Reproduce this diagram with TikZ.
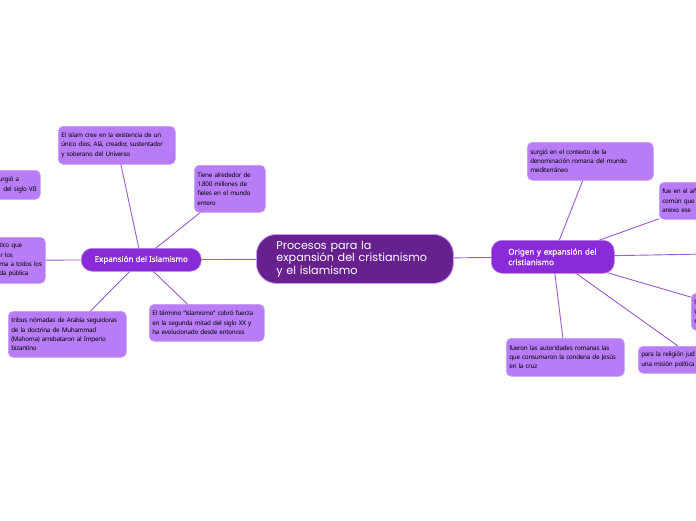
\documentclass[tikz,border=0pt]{standalone}
\usepackage{fontspec}
\setmainfont{Noto Sans}
\newfontfamily\leaffont[LetterSpace=-4]{Noto Sans}
\newfontfamily\mfont[FakeBold=0.6]{Noto Sans}
\newfontfamily\centfont{Poppins}
\usetikzlibrary{backgrounds}
\definecolor{cent}{HTML}{67218F}
\definecolor{mainc}{HTML}{8A2BD9}
\definecolor{leafc}{HTML}{B77CF6}
\definecolor{leafb}{HTML}{C79CF8}
\definecolor{linec}{HTML}{9A5AD2}
\tikzset{
  leaf/.style={draw=leafb, line width=0.6pt, fill=leafc, rounded corners=5pt, anchor=north west,
    align=left, inner sep=3pt, font=\leaffont\fontsize{6.3}{9.3}\selectfont, text=black},
  mainnode/.style={draw=mainc!60, line width=0.6pt, fill=mainc, rounded corners=11pt, anchor=north west,
    text=white, font=\mfont\fontsize{8}{10.5}\selectfont},
  centnode/.style={draw=leafb, line width=0.8pt, fill=cent, rounded corners=20pt, anchor=north west,
    text=white, align=left, font=\centfont\fontsize{11.2}{12.5}\selectfont},
  conn/.style={draw=linec, line width=0.9pt}
}
\begin{document}
\begin{tikzpicture}[x=1pt,y=-1pt]
\useasboundingbox (0,0) rectangle (696,520);
\clip (0,0) rectangle (696,520);
% central and main nodes
\node[centnode, minimum width=197pt, minimum height=49pt, text width=157pt, inner xsep=20pt] (c) at (256,234)
  {Procesos para la\\expansión del cristianismo\\y el islamismo};
\node[mainnode, minimum width=120pt, minimum height=23pt] (ml) at (81,248) {Expansión del Islamismo};
\node[mainnode, minimum width=123pt, minimum height=33pt, align=left, text width=89pt, inner xsep=17pt] (mr) at (491,240)
  {Origen y expansión del\\cristianismo};
% left leaves
\node[leaf, minimum width=117pt, minimum height=38pt, text width=111pt] (l1) at (58,126)
  {El islam cree en la existencia de un\\único dios, Alá, creador, sustentador\\y soberano del Universo};
\node[leaf, minimum width=71pt, minimum height=47pt, text width=65pt] (l2) at (194,165)
  {Tiene alrededor de\\1.800 millones de\\fieles en el mundo\\entero};
\node[leaf, minimum width=100pt, minimum height=29pt, text width=94pt] (l3) at (-60,170)
  {\hspace*{55.5pt}urgió a\\\hspace*{60pt}del siglo VII};
\node[leaf, minimum width=125pt, minimum height=46pt, text width=119pt] (l4) at (-80,237)
  {\hspace*{76pt}\mbox{tico que}\\\hspace*{77pt}\mbox{r los}\\\hspace*{76pt}\mbox{ma a todos los}\\\hspace*{76pt}\mbox{da pública}};
\node[leaf, minimum width=118pt, minimum height=46pt, text width=112pt] (l5) at (8,311)
  {tribus nómadas de Arabia seguidoras\\de la doctrina de Muhammad\\(Mahoma) arrebataron al Imperio\\bizantino};
\node[leaf, minimum width=115pt, minimum height=37pt, text width=109pt] (l6) at (149,304)
  {El término “islamismo” cobró fuerza\\en la segunda mitad del siglo XX y\\ha evolucionado desde entonces};
% right leaves
\node[leaf, minimum width=126pt, minimum height=38pt, text width=120pt] (r1) at (527,142)
  {surgió en el contexto de la\\denominación romana del mundo\\mediterráneo};
\node[leaf, minimum width=100pt, minimum height=37pt, text width=94pt] (r2) at (659,182)
  {fue en el añ\\común que\\anexo ese};
\coordinate (r3) at (760,253);
\node[leaf, minimum width=100pt, minimum height=37pt, text width=94pt] (r4) at (691,293)
  {l\\V\\r};
\node[leaf, minimum width=118pt, minimum height=27pt, text width=112pt] (r5) at (638,346)
  {para la religión jud\\una misión política};
\node[leaf, minimum width=118pt, minimum height=38pt, text width=112pt] (r6) at (506,338)
  {fueron las autoridades romanas las\\que consumaron la condena de Jesús\\en la cruz};
\begin{pgfonlayer}{background}
\fill[white] (0,0) rectangle (696,520);
\draw[conn] (ml.center) -- (c.center);
\draw[conn] (c.center) -- (mr.center);
\foreach \n in {l1,l2,l4,l5,l6} \draw[conn] (ml.center) -- (\n.center);
\foreach \n in {r1,r2,r3,r4,r5,r6} \draw[conn] (mr.center) -- (\n);
\end{pgfonlayer}
\end{tikzpicture}
\end{document}
